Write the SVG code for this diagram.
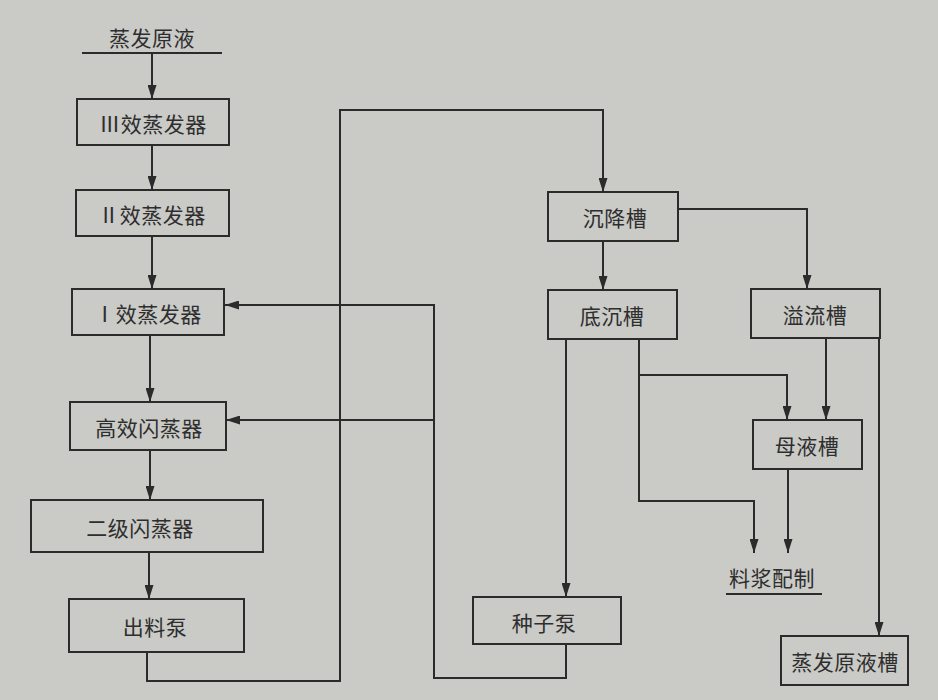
<svg xmlns="http://www.w3.org/2000/svg" width="938" height="700" viewBox="0 0 938 700">
  <defs>
    <marker id="ah" viewBox="0 0 14 9" refX="14" refY="4.5" markerWidth="14" markerHeight="9" orient="auto" markerUnits="userSpaceOnUse">
      <path d="M0,0 L14,4.5 L0,9 Z" fill="#2b2b2b"/>
    </marker>
    <style>
      .box { fill: none; stroke: #2b2b2b; stroke-width: 2; }
      .lbl { font-family: "Noto Sans CJK SC", "Noto Sans", sans-serif; font-size: 21px; fill: #2e2e2e; text-anchor: middle; dominant-baseline: central; letter-spacing: 0.5px; }
      .ln { fill: none; stroke: #2b2b2b; stroke-width: 2; }
      .arr { marker-end: url(#ah); }
    </style>
  </defs>
  <rect x="0" y="0" width="938" height="700" fill="#cacac7"/>

  <g id="feed-in">
    <text class="lbl" x="152" y="37">蒸发原液</text>
    <path class="ln" d="M82,53 H222"/>
  </g>
  <g id="evap3">
    <rect class="box" x="77" y="99" width="152" height="46"/>
    <text class="lbl" x="153" y="123">Ⅲ效蒸发器</text>
  </g>
  <g id="evap2">
    <rect class="box" x="76" y="190" width="153" height="46"/>
    <text class="lbl" x="152" y="214">Ⅱ效蒸发器</text>
  </g>
  <g id="evap1">
    <rect class="box" x="72" y="289" width="152" height="46"/>
    <text class="lbl" x="148" y="313">Ⅰ效蒸发器</text>
  </g>
  <g id="flash1">
    <rect class="box" x="70" y="402" width="156" height="48"/>
    <text class="lbl" x="149" y="427">高效闪蒸器</text>
  </g>
  <g id="flash2">
    <rect class="box" x="31" y="500" width="232" height="52"/>
    <text class="lbl" x="140" y="527">二级闪蒸器</text>
  </g>
  <g id="outpump">
    <rect class="box" x="69" y="599" width="175" height="53"/>
    <text class="lbl" x="155" y="626">出料泵</text>
  </g>
  <g id="settler">
    <rect class="box" x="548" y="192" width="130" height="49"/>
    <text class="lbl" x="615" y="217">沉降槽</text>
  </g>
  <g id="bottom-tank">
    <rect class="box" x="548" y="290" width="129" height="49"/>
    <text class="lbl" x="612" y="315">底沉槽</text>
  </g>
  <g id="overflow-tank">
    <rect class="box" x="751" y="289" width="129" height="49"/>
    <text class="lbl" x="815" y="314">溢流槽</text>
  </g>
  <g id="mother-tank">
    <rect class="box" x="753" y="420" width="109" height="49"/>
    <text class="lbl" x="807" y="445">母液槽</text>
  </g>
  <g id="slurry">
    <text class="lbl" x="772" y="577">料浆配制</text>
    <path class="ln" d="M726,594 H822"/>
  </g>
  <g id="seedpump">
    <rect class="box" x="473" y="597" width="148" height="47"/>
    <text class="lbl" x="544" y="622">种子泵</text>
  </g>
  <g id="feed-tank">
    <rect class="box" x="781" y="636" width="127" height="49"/>
    <text class="lbl" x="845" y="661">蒸发原液槽</text>
  </g>

  <g id="connectors">
    <path class="ln arr" d="M152,53 V99"/>
    <path class="ln arr" d="M152,145 V190"/>
    <path class="ln arr" d="M152,236 V289"/>
    <path class="ln arr" d="M150,335 V402"/>
    <path class="ln arr" d="M150,450 V500"/>
    <path class="ln arr" d="M149,552 V599"/>
    <path class="ln arr" d="M147,652 V681 H340 V110 H603 V192"/>
    <path class="ln arr" d="M566,644 V678 H434 V305 H225"/>
    <path class="ln arr" d="M434,420 H226"/>
    <path class="ln arr" d="M603,241 V290"/>
    <path class="ln arr" d="M678,209 H807 V289"/>
    <path class="ln arr" d="M566,339 V597"/>
    <path class="ln arr" d="M639,339 V501 H754 V553"/>
    <path class="ln arr" d="M639,375 H787 V420"/>
    <path class="ln arr" d="M826,338 V420"/>
    <path class="ln arr" d="M788,469 V553"/>
    <path class="ln arr" d="M879,338 V636"/>
  </g>
</svg>
